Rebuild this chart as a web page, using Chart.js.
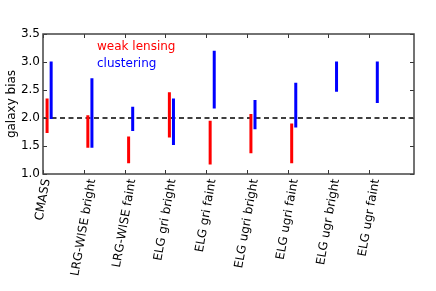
<!DOCTYPE html>
<html>
<head>
<meta charset="utf-8">
<script src="https://cdn.jsdelivr.net/npm/chart.js@4"></script>
<style>
  html, body { margin: 0; padding: 0; background: #fff; }
  #wrap { width: 436px; height: 291px; }
</style>
</head>
<body>
<div id="wrap"><canvas id="chart"></canvas></div>
<script>
// samples on the x axis
var categories = ['CMASS', 'LRG-WISE bright', 'LRG-WISE faint', 'ELG gri bright', 'ELG gri faint',
  'ELG ugri bright', 'ELG ugri faint', 'ELG ugr bright', 'ELG ugr faint'];
// weak lensing bias ranges (low, high); null = no measurement
var lensingLow  = [1.73, 1.47, 1.19, 1.65, 1.17, 1.37, 1.19, null, null];
var lensingHigh = [2.35, 2.05, 1.67, 2.46, 1.95, 2.07, 1.90, null, null];
// clustering bias ranges
var clusterLow  = [1.98, 1.47, 1.77, 1.52, 2.17, 1.80, 1.83, 2.47, 2.27];
var clusterHigh = [3.01, 2.71, 2.20, 2.35, 3.20, 2.32, 2.63, 3.01, 3.01];
var yTicks = [1.0, 1.5, 2.0, 2.5, 3.0, 3.5];
var refBias = 2.0;

var lensOffset = 0.1, clusOffset = 0.2;

function segments(low, high, off) {
  var pts = [];
  for (var i = 0; i < low.length; i++) {
    if (low[i] == null) continue;
    pts.push({x: i + off, y: low[i]});
    pts.push({x: i + off, y: high[i]});
    pts.push({x: i + off, y: null});
  }
  return pts;
}

var font = 'DejaVu Sans';

var framePlugin = {
  id: 'frame',
  afterDraw: function(chart) {
    var ctx = chart.ctx, a = chart.chartArea;
    var xs = chart.scales.x, ys = chart.scales.y;
    ctx.save();
    ctx.strokeStyle = '#333';
    ctx.lineWidth = 1;
    // inward ticks
    ctx.beginPath();
    for (var i = 0; i < categories.length; i++) {
      var px = Math.round(xs.getPixelForValue(i)) + 0.5;
      ctx.moveTo(px, a.bottom); ctx.lineTo(px, a.bottom - 4);
      ctx.moveTo(px, a.top); ctx.lineTo(px, a.top + 4);
    }
    yTicks.forEach(function(v) {
      var py = Math.round(ys.getPixelForValue(v)) + 0.5;
      ctx.moveTo(a.left, py); ctx.lineTo(a.left + 4, py);
      ctx.moveTo(a.right, py); ctx.lineTo(a.right - 4, py);
    });
    ctx.stroke();
    ctx.lineWidth = 1.5;
    ctx.strokeStyle = '#444';
    ctx.strokeRect(a.left, a.top, a.right - a.left, a.bottom - a.top);

    // rotated category labels, bbox centred on the tick
    ctx.fillStyle = '#000';
    ctx.font = '12px "' + font + '"';
    ctx.textAlign = 'center';
    ctx.textBaseline = 'middle';
    var ang = 80 * Math.PI / 180, h = 12;
    categories.forEach(function(c, i) {
      var w = ctx.measureText(c).width;
      var bh = w * Math.sin(ang) + h * Math.cos(ang);
      var cx = xs.getPixelForValue(i);
      var cy = a.bottom + 4 + bh / 2;
      ctx.save();
      ctx.translate(cx, cy);
      ctx.rotate(-ang);
      ctx.fillText(c, 0, 0);
      ctx.restore();
    });

    // legend text
    ctx.textAlign = 'left';
    ctx.fillStyle = '#ff0000';
    ctx.fillText('weak lensing', a.left + 54, a.top + 13);
    ctx.fillStyle = '#0000ff';
    ctx.fillText('clustering', a.left + 54, a.top + 30);
    ctx.restore();
  }
};

new Chart(document.getElementById('chart'), {
  type: 'scatter',
  data: {
    datasets: [
      {
        label: 'weak lensing',
        data: segments(lensingLow, lensingHigh, lensOffset),
        showLine: true, spanGaps: false,
        borderColor: '#ff0000', borderWidth: 3, borderCapStyle: 'butt',
        pointRadius: 0
      },
      {
        label: 'clustering',
        data: segments(clusterLow, clusterHigh, clusOffset),
        showLine: true, spanGaps: false,
        borderColor: '#0000ff', borderWidth: 3, borderCapStyle: 'butt',
        pointRadius: 0
      },
      {
        label: 'reference',
        data: [{x: 0, y: refBias}, {x: 9.1, y: refBias}],
        showLine: true,
        borderColor: '#000', borderWidth: 1.3, borderDash: [5, 3.5],
        pointRadius: 0
      }
    ]
  },
  options: {
    responsive: true,
    maintainAspectRatio: false,
    animation: false,
    layout: { padding: { left: 0, top: 34, right: 22, bottom: 0 } },
    plugins: { legend: { display: false }, tooltip: { enabled: false } },
    scales: {
      x: {
        type: 'linear', min: 0, max: 9.1,
        grid: { display: false, drawTicks: false },
        border: { display: false },
        ticks: { display: false },
        afterFit: function(s) { s.height = 117; }
      },
      y: {
        min: 1, max: 3.5,
        grid: { display: false, drawTicks: false },
        border: { display: false },
        afterBuildTicks: function(s) { s.ticks = yTicks.map(function(v) { return {value: v}; }); },
        ticks: {
          padding: 3, color: '#000',
          font: { family: font, size: 12 },
          callback: function(v) { return v.toFixed(1); }
        },
        title: {
          display: true, text: 'galaxy bias', color: '#000',
          font: { family: font, size: 12 },
          padding: { top: 5, bottom: 0 }
        },
        afterFit: function(s) { s.width = 43; }
      }
    }
  },
  plugins: [framePlugin]
});
</script>
</body>
</html>
